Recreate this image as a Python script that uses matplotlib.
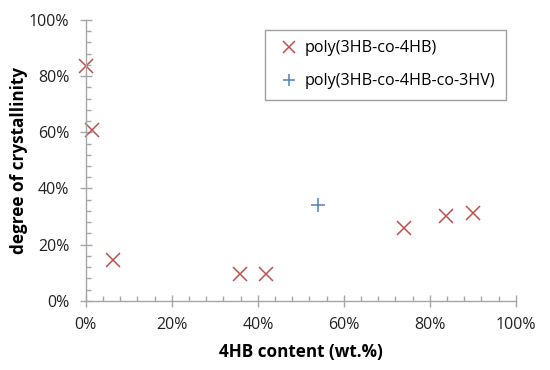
import matplotlib

matplotlib.use('Agg')

import matplotlib.pyplot as plt
from matplotlib.ticker import MultipleLocator, PercentFormatter

plt.rcParams['font.family'] = ['Open Sans', 'DejaVu Sans']

# poly(3HB-co-4HB): 4HB content (wt.%) vs degree of crystallinity (%)
hb4_x = [0.0, 1.4, 6.4, 35.9, 41.9, 73.9, 83.8, 90.0]
hb4_y = [83.6, 60.8, 14.6, 9.4, 9.4, 25.8, 30.3, 31.2]

# poly(3HB-co-4HB-co-3HV)
hv_x = [53.9]
hv_y = [34.1]

RED = '#C0504D'
BLUE = '#4F81BD'
AXIS = '#A6A6A6'

fig = plt.figure(figsize=(5.5, 3.7), dpi=100)
ax = fig.add_axes([0.156, 0.187, 0.782, 0.759])

ax.plot(hb4_x, hb4_y, 'x', color=RED, ms=10, mew=1.1,
        label='poly(3HB-co-4HB)', clip_on=False)
ax.plot(hv_x, hv_y, '+', color=BLUE, ms=10, mew=1.1,
        label='poly(3HB-co-4HB-co-3HV)', clip_on=False)

ax.set_xlim(0, 100)
ax.set_ylim(0, 100)
ax.xaxis.set_major_locator(MultipleLocator(20))
ax.xaxis.set_minor_locator(MultipleLocator(4))
ax.yaxis.set_major_locator(MultipleLocator(20))
ax.yaxis.set_minor_locator(MultipleLocator(4))
ax.xaxis.set_major_formatter(PercentFormatter(decimals=0))
ax.yaxis.set_major_formatter(PercentFormatter(decimals=0))

for side in ['top', 'right']:
    ax.spines[side].set_visible(False)
for side in ['left', 'bottom']:
    ax.spines[side].set_color(AXIS)
    ax.spines[side].set_linewidth(1.0)

ax.tick_params(which='major', direction='inout', length=8, width=1.0,
               color=AXIS, labelsize=11.5, labelcolor='#222222', pad=8)
ax.tick_params(which='minor', direction='in', length=3.6, width=1.0,
               color=AXIS)

ax.set_xlabel('4HB content (wt.%)', fontsize=12.3, fontweight='bold',
              labelpad=7)
ax.set_ylabel('degree of crystallinity', fontsize=12.3, fontweight='bold',
              labelpad=0.5)

leg = ax.legend(loc='upper right', bbox_to_anchor=(0.92, 0.919),
                bbox_transform=fig.transFigure, fancybox=False,
                fontsize=11.6, handlelength=1.6, handletextpad=0.2,
                labelspacing=1.05, borderpad=0.65, borderaxespad=0,
                markerscale=0.8)
leg.get_frame().set_edgecolor('#888888')
leg.get_frame().set_linewidth(1.0)

fig.savefig('out.png', dpi=100)
